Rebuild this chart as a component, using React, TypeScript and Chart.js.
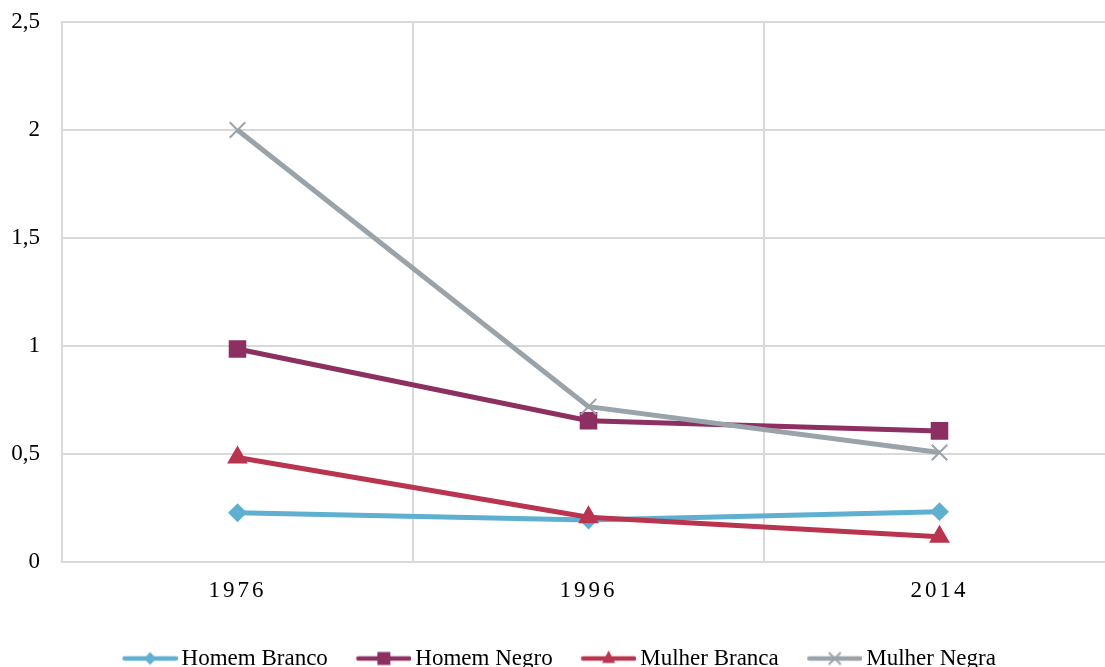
import React, { useEffect, useRef } from 'react';
import { Chart, registerables } from 'chart.js';

Chart.register(...registerables);

const categories = ['1976', '1996', '2014'];
const homemBranco = [0.228, 0.194, 0.233];
const homemNegro = [0.986, 0.654, 0.607];
const mulherBranca = [0.484, 0.207, 0.117];
const mulherNegra = [2.0, 0.719, 0.507];
const seriesNames = ['Homem Branco', 'Homem Negro', 'Mulher Branca', 'Mulher Negra'];
const yTicks = [0, 0.5, 1, 1.5, 2, 2.5];

const COLORS = ['#5FAFD0', '#8C3062', '#B8344F', '#9AA2AA'];
const STYLES = ['rectRot', 'rect', 'triangle', 'crossRot'];
const RADII = [8, 11, 10, 11];
const FONT = 'Liberation Serif';
const FONT_SIZE = 23;

function makeLegendIcon(color: string, style: string): HTMLCanvasElement {
  const c = document.createElement('canvas');
  c.width = 63;
  c.height = 20;
  const ctx = c.getContext('2d')!;
  ctx.strokeStyle = color;
  ctx.fillStyle = color;
  ctx.lineWidth = 4.5;
  ctx.lineCap = 'round';
  ctx.beginPath();
  ctx.moveTo(10, 10);
  ctx.lineTo(61, 10);
  ctx.stroke();
  const cx = 35.5;
  const cy = 10;
  ctx.beginPath();
  if (style === 'rectRot') {
    ctx.moveTo(cx, cy - 6.5);
    ctx.lineTo(cx + 6, cy);
    ctx.lineTo(cx, cy + 6.5);
    ctx.lineTo(cx - 6, cy);
    ctx.closePath();
    ctx.fill();
  } else if (style === 'rect') {
    ctx.fillRect(cx - 6.5, cy - 6.5, 13, 13);
  } else if (style === 'triangle') {
    ctx.moveTo(cx, cy - 8);
    ctx.lineTo(cx + 6.5, cy + 4.5);
    ctx.lineTo(cx - 6.5, cy + 4.5);
    ctx.closePath();
    ctx.fill();
  } else {
    ctx.lineWidth = 2;
    ctx.lineCap = 'butt';
    ctx.moveTo(cx - 6, cy - 6);
    ctx.lineTo(cx + 6, cy + 6);
    ctx.moveTo(cx + 6, cy - 6);
    ctx.lineTo(cx - 6, cy + 6);
    ctx.stroke();
  }
  return c;
}

function withSpacing(obj: any, method: string, spacing: string) {
  const flag = '__sp_' + method;
  if (!obj || obj[flag]) return;
  const orig = obj[method];
  obj[method] = function (...args: any[]) {
    const ctx = this.ctx as any;
    const prev = ctx.letterSpacing;
    ctx.letterSpacing = spacing;
    try {
      return orig.apply(this, args);
    } finally {
      ctx.letterSpacing = prev;
    }
  };
  obj[flag] = true;
}

const spacingPlugin = {
  id: 'letterSpacingPlugin',
  beforeDraw(chart: any) {
    withSpacing(chart.scales.x, 'drawLabels', '3px');
  },
};

export default function App() {
  const ref = useRef<HTMLCanvasElement>(null);

  useEffect(() => {
    if (!ref.current) return;
    const seriesData = [homemBranco, homemNegro, mulherBranca, mulherNegra];
    const icons = seriesNames.map((_, i) => makeLegendIcon(COLORS[i], STYLES[i]));
    const chart = new Chart(ref.current, {
      type: 'line',
      data: {
        labels: categories,
        datasets: seriesNames.map((name, i) => ({
          label: name,
          data: seriesData[i],
          borderColor: COLORS[i],
          backgroundColor: COLORS[i],
          borderWidth: 5,
          pointStyle: STYLES[i] as any,
          pointRadius: RADII[i],
          pointBorderWidth: 2,
          pointBorderColor: COLORS[i],
          pointBackgroundColor: COLORS[i],
          tension: 0,
          order: 3 - i,
        })),
      },
      options: {
        animation: false,
        responsive: false,
        devicePixelRatio: 1,
        layout: { padding: { left: 0, right: 10, top: 22, bottom: 0 } },
        plugins: {
          tooltip: { enabled: false },
          legend: {
            position: 'bottom',
            labels: {
              usePointStyle: true,
              pointStyleWidth: 48,
              boxHeight: 20,
              padding: 28,
              color: '#000',
              font: { family: FONT, size: FONT_SIZE },
              generateLabels: (c: any) =>
                c.data.datasets.map((ds: any, i: number) => ({
                  text: ds.label,
                  pointStyle: icons[i],
                  fillStyle: COLORS[i],
                  strokeStyle: COLORS[i],
                  lineWidth: 0,
                  hidden: false,
                  datasetIndex: i,
                  fontColor: '#000',
                })),
            },
          },
        },
        scales: {
          x: {
            offset: true,
            grid: { offset: true, color: '#D9D9D9', lineWidth: 2, drawTicks: false },
            border: { color: '#D9D9D9', width: 2 },
            ticks: { padding: 15, color: '#000', font: { family: FONT, size: FONT_SIZE } },
            afterFit: (s: any) => {
              s.height = 57;
            },
          },
          y: {
            min: 0,
            max: 2.5,
            grid: { color: '#D9D9D9', lineWidth: 2, drawTicks: false },
            border: { color: '#D9D9D9', width: 2 },
            ticks: {
              padding: 22,
              color: '#000',
              font: { family: FONT, size: FONT_SIZE },
              callback: (v: any) => String(v).replace('.', ','),
            },
            afterBuildTicks: (s: any) => {
              s.ticks = yTicks.map((v) => ({ value: v }));
            },
            afterFit: (s: any) => {
              s.width = 62;
              s.paddingTop = 12;
              s.paddingBottom = 12;
            },
          },
        },
      },
      plugins: [spacingPlugin],
    });
    return () => chart.destroy();
  }, []);

  return (
    <div
      style={{
        position: 'fixed',
        left: 0,
        top: 0,
        width: 1105,
        height: 667,
        overflow: 'hidden',
        background: '#fff',
      }}
    >
      <canvas ref={ref} width={1128} height={680} style={{ display: 'block', width: 1128, height: 680 }} />
    </div>
  );
}
